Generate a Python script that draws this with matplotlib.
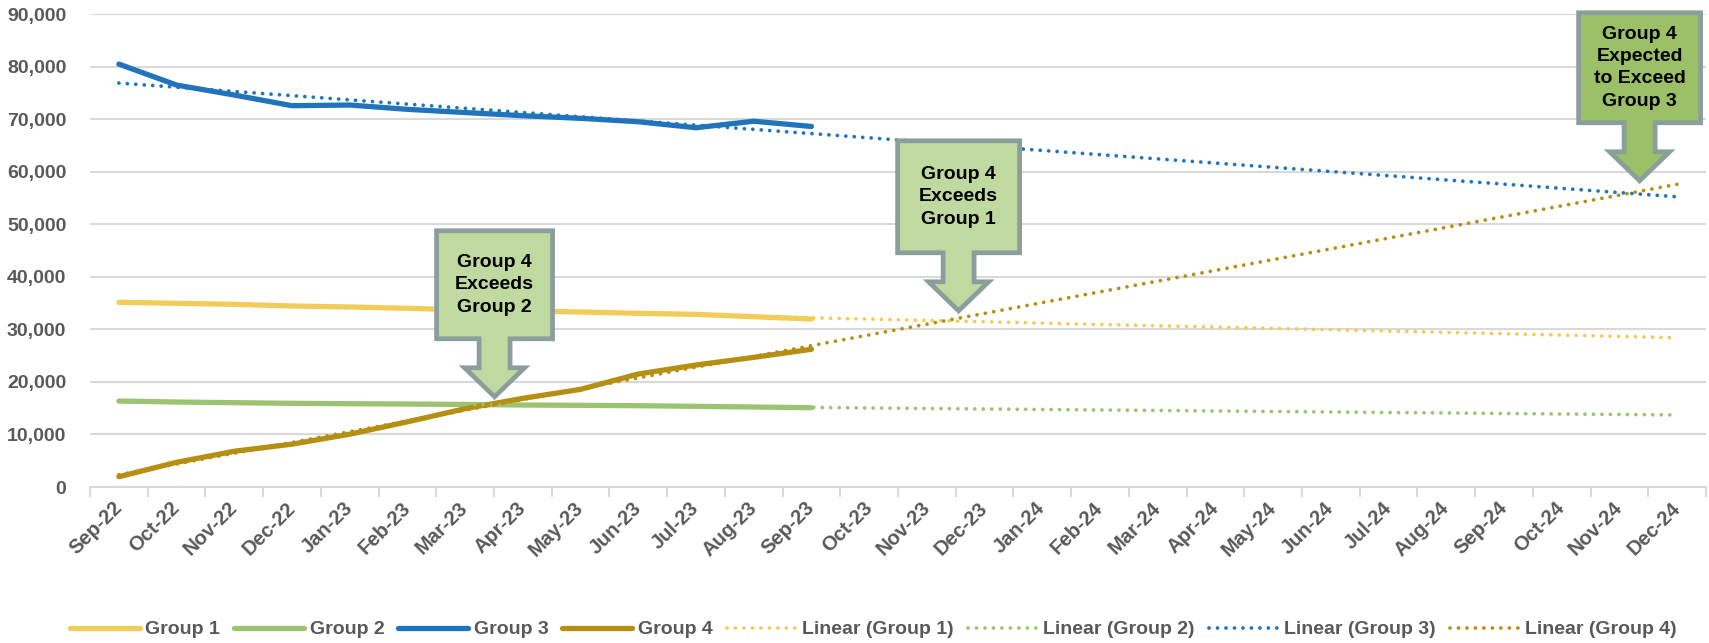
import numpy as np
import matplotlib.pyplot as plt
import matplotlib.transforms as mtransforms
from matplotlib.patches import Polygon
from matplotlib.ticker import FuncFormatter

plt.rcParams['font.family'] = ['Liberation Sans', 'DejaVu Sans']
plt.rcParams['font.weight'] = 'bold'

months = ['Sep-22', 'Oct-22', 'Nov-22', 'Dec-22', 'Jan-23', 'Feb-23', 'Mar-23',
          'Apr-23', 'May-23', 'Jun-23', 'Jul-23', 'Aug-23', 'Sep-23', 'Oct-23',
          'Nov-23', 'Dec-23', 'Jan-24', 'Feb-24', 'Mar-24', 'Apr-24', 'May-24',
          'Jun-24', 'Jul-24', 'Aug-24', 'Sep-24', 'Oct-24', 'Nov-24', 'Dec-24']

group1 = [35140, 34950, 34760, 34440, 34250, 34000, 33700, 33500, 33300, 33050, 32850, 32400, 31960]
group2 = [16360, 16170, 16040, 15920, 15850, 15790, 15700, 15600, 15540, 15470, 15350, 15220, 15090]
group3 = [80470, 76480, 74580, 72550, 72680, 71860, 71250, 70650, 70150, 69500, 68360, 69600, 68600]
group4 = [1960, 4700, 6800, 8150, 10050, 12400, 14900, 16870, 18580, 21500, 23210, 24670, 26200]

series = [group1, group2, group3, group4]
names = ['Group 1', 'Group 2', 'Group 3', 'Group 4']
colors = ['#f2cc58', '#9cc371', '#1f74bb', '#b58f12']

# callouts: text, tip (category index, value), box size in px, fill
callouts = [
    ('Group 4\nExceeds\nGroup 2', 6.51, 17170, 116, 108, '#c0d9a0'),
    ('Group 4\nExceeds\nGroup 1', 14.55, 33530, 122, 112, '#c0d9a0'),
    ('Group 4\nExpected\nto Exceed\nGroup 3', 26.35, 58270, 122, 110, '#9cc068'),
]

grey_text = '#595959'
grid_grey = '#d9d9d9'

fig = plt.figure(figsize=(17.09, 6.43), dpi=100)
ax = fig.add_axes([90 / 1709, 156 / 643, 1616 / 1709, 473 / 643])

x = np.arange(len(group1))
trend_x = np.arange(len(months))
handles = []
for vals, color, name in zip(series, colors, names):
    h, = ax.plot(x, vals, color=color, lw=3.8, solid_capstyle='round',
                 solid_joinstyle='round', label=name, zorder=3)
    handles.append(h)
for vals, color, name in zip(series, colors, names):
    coef = np.polyfit(x, vals, 1)
    h, = ax.plot(trend_x, np.polyval(coef, trend_x), color=color, lw=2.7,
                 linestyle=(0, (0.01, 2.25)), dash_capstyle='round',
                 label=f'Linear ({name})', zorder=4)
    handles.append(h)

ax.set_xlim(-0.5, len(months) - 0.5)
ax.set_ylim(0, 90000)
ax.set_yticks(np.arange(0, 90001, 10000))
ax.yaxis.set_major_formatter(FuncFormatter(lambda v, p: f'{v:,.0f}'))
ax.set_xticks(trend_x)
ax.set_xticklabels(months, rotation=45, ha='right', va='center', rotation_mode='anchor')
ax.set_xticks(np.arange(-0.5, len(months)), minor=True)

ax.tick_params(axis='y', length=0, pad=17, labelsize=14, labelcolor=grey_text)
ax.tick_params(axis='x', which='major', length=0, pad=13, labelsize=14.5, labelcolor=grey_text)
ax.tick_params(axis='x', which='minor', length=7, width=1.5, color=grid_grey)

for side in ['top', 'right', 'left']:
    ax.spines[side].set_visible(False)
ax.spines['bottom'].set_color(grid_grey)
ax.spines['bottom'].set_linewidth(1.5)
ax.yaxis.grid(True, color=grid_grey, lw=1.5)
ax.set_axisbelow(True)


def draw_callout(text, tip_x, tip_y, box_w, box_h, fill):
    # down-arrow callout, shape given in pixels above the arrow tip
    gap, stem_w, head_w, head_h = 58, 31, 60, 29
    pts = np.array([
        (0, 0), (head_w / 2, head_h), (stem_w / 2, head_h), (stem_w / 2, gap),
        (box_w / 2, gap), (box_w / 2, gap + box_h), (-box_w / 2, gap + box_h),
        (-box_w / 2, gap), (-stem_w / 2, gap), (-stem_w / 2, head_h),
        (-head_w / 2, head_h),
    ]) / fig.dpi
    trans = fig.dpi_scale_trans + mtransforms.ScaledTranslation(tip_x, tip_y, ax.transData)
    ax.add_patch(Polygon(pts, closed=True, facecolor=fill, edgecolor='#8a9e9c', lw=3.4,
                         joinstyle='miter', transform=trans, clip_on=False, zorder=5))
    ax.text(0, (gap + box_h / 2) / fig.dpi, text, transform=trans, ha='center', va='center',
            fontsize=14, fontweight='bold', color='black', linespacing=1.42, zorder=6)


for c in callouts:
    draw_callout(*c)

leg = fig.legend(handles=handles, loc='lower center', bbox_to_anchor=(0.511, -0.02), ncol=8,
                 frameon=False, fontsize=14, handlelength=3.6, handletextpad=0.28,
                 columnspacing=0.72)
for t in leg.get_texts():
    t.set_color(grey_text)

fig.savefig('out.png', dpi=100)
